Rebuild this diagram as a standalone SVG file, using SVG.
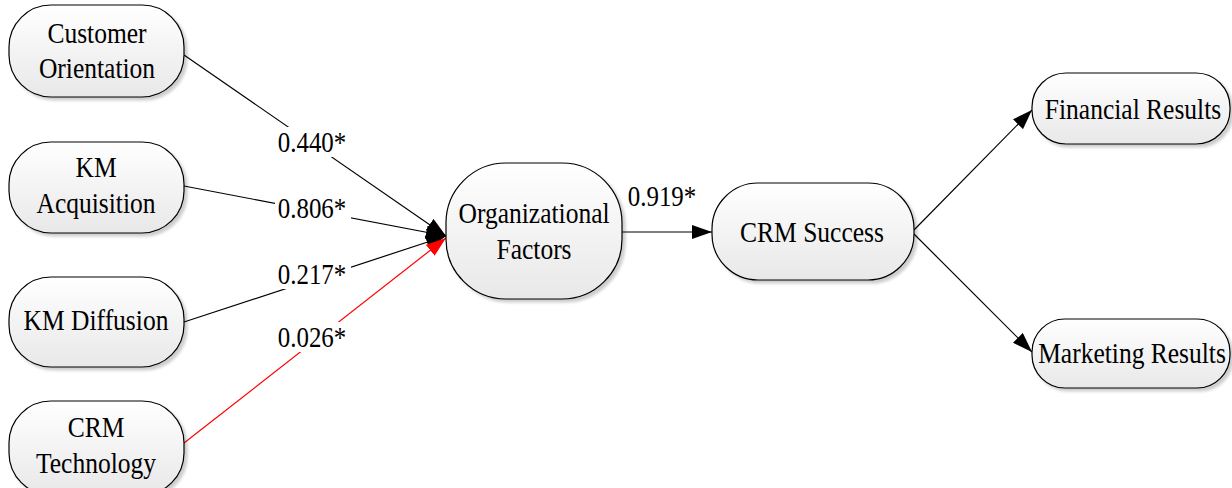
<svg xmlns="http://www.w3.org/2000/svg" width="1232" height="488" viewBox="0 0 1232 488">
  <style>
    .node rect { fill: url(#nodeFill); stroke: #000; stroke-width: 1.2; filter: url(#shadow); }
    .node text, .label { font-family: "Liberation Serif", "Times New Roman", serif; font-size: 29px; fill: #000; text-anchor: middle; }
    .edge { stroke: #000; stroke-width: 1.2; fill: none; marker-end: url(#arrow); }
    .edge.red { stroke: #ff0000; marker-end: url(#arrowRed); }
    .labelBg { fill: #fff; }
  </style>
  <defs>
    <linearGradient id="nodeFill" x1="0" y1="0" x2="0" y2="1">
      <stop offset="0" stop-color="#ffffff"/>
      <stop offset="1" stop-color="#e8e8e8"/>
    </linearGradient>
    <filter id="shadow" x="-10%" y="-10%" width="130%" height="130%">
      <feGaussianBlur in="SourceAlpha" stdDeviation="1.5"/>
      <feOffset dx="3" dy="3" result="off"/>
      <feComponentTransfer><feFuncA type="linear" slope="0.2"/></feComponentTransfer>
      <feMerge><feMergeNode/><feMergeNode in="SourceGraphic"/></feMerge>
    </filter>
    <marker id="arrow" viewBox="0 0 20 14" refX="20" refY="7" markerWidth="20" markerHeight="14" markerUnits="userSpaceOnUse" orient="auto">
      <path d="M0,0 L20,7 L0,14 Z" fill="#000"/>
    </marker>
    <marker id="arrowRed" viewBox="0 0 20 14" refX="20" refY="7" markerWidth="20" markerHeight="14" markerUnits="userSpaceOnUse" orient="auto">
      <path d="M0,0 L20,7 L0,14 Z" fill="#ff0000"/>
    </marker>
  </defs>

  <rect width="1232" height="488" fill="#fff"/>

  <!-- connectors -->
  <g id="connectors">
    <line class="edge" x1="184" y1="55" x2="446" y2="236"/>
    <line class="edge" x1="184" y1="186" x2="446" y2="236"/>
    <line class="edge" x1="184" y1="322" x2="446" y2="236"/>
    <line class="edge red" x1="184" y1="443" x2="446" y2="238"/>
    <line class="edge" x1="622" y1="232" x2="712" y2="232"/>
    <line class="edge" x1="914" y1="230" x2="1032" y2="110"/>
    <line class="edge" x1="914" y1="234" x2="1032" y2="352"/>

    <g id="edge-labels">
      <rect class="labelBg" x="275" y="127" width="76" height="30"/>
      <text class="label" transform="translate(312,152) scale(0.86,1)">0.440*</text>
      <rect class="labelBg" x="275" y="193" width="76" height="30"/>
      <text class="label" transform="translate(312,218) scale(0.86,1)">0.806*</text>
      <rect class="labelBg" x="275" y="259" width="76" height="30"/>
      <text class="label" transform="translate(312,284) scale(0.86,1)">0.217*</text>
      <rect class="labelBg" x="275" y="322" width="76" height="30"/>
      <text class="label" transform="translate(312,347) scale(0.86,1)">0.026*</text>
      <text class="label" transform="translate(662,206) scale(0.86,1)">0.919*</text>
    </g>
  </g>

  <!-- nodes -->
  <g id="customer-orientation" class="node">
    <rect x="9" y="5" width="175" height="92" rx="42" ry="42"/>
    <text transform="translate(97,43) scale(0.88,1)">Customer</text>
    <text transform="translate(97,78) scale(0.88,1)">Orientation</text>
  </g>
  <g id="km-acquisition" class="node">
    <rect x="9" y="142" width="175" height="91" rx="42" ry="42"/>
    <text transform="translate(96,177) scale(0.88,1)">KM</text>
    <text transform="translate(96,213) scale(0.88,1)">Acquisition</text>
  </g>
  <g id="km-diffusion" class="node">
    <rect x="9" y="277" width="175" height="90" rx="42" ry="42"/>
    <text transform="translate(96,330) scale(0.88,1)">KM Diffusion</text>
  </g>
  <g id="crm-technology" class="node">
    <rect x="9" y="401" width="175" height="94" rx="42" ry="42"/>
    <text transform="translate(96,437) scale(0.88,1)">CRM</text>
    <text transform="translate(96,473) scale(0.88,1)">Technology</text>
  </g>
  <g id="organizational-factors" class="node">
    <rect x="446" y="163" width="176" height="136" rx="60" ry="60"/>
    <text transform="translate(534,223) scale(0.88,1)">Organizational</text>
    <text transform="translate(534,259) scale(0.88,1)">Factors</text>
  </g>
  <g id="crm-success" class="node">
    <rect x="712" y="183" width="202" height="97" rx="46" ry="46"/>
    <text transform="translate(812,242) scale(0.88,1)">CRM Success</text>
  </g>
  <g id="financial-results" class="node">
    <rect x="1032" y="73" width="198" height="71" rx="34" ry="34"/>
    <text transform="translate(1133,119) scale(0.88,1)">Financial Results</text>
  </g>
  <g id="marketing-results" class="node">
    <rect x="1032" y="319" width="198" height="69" rx="33" ry="33"/>
    <text transform="translate(1132,363) scale(0.88,1)">Marketing Results</text>
  </g>
</svg>
